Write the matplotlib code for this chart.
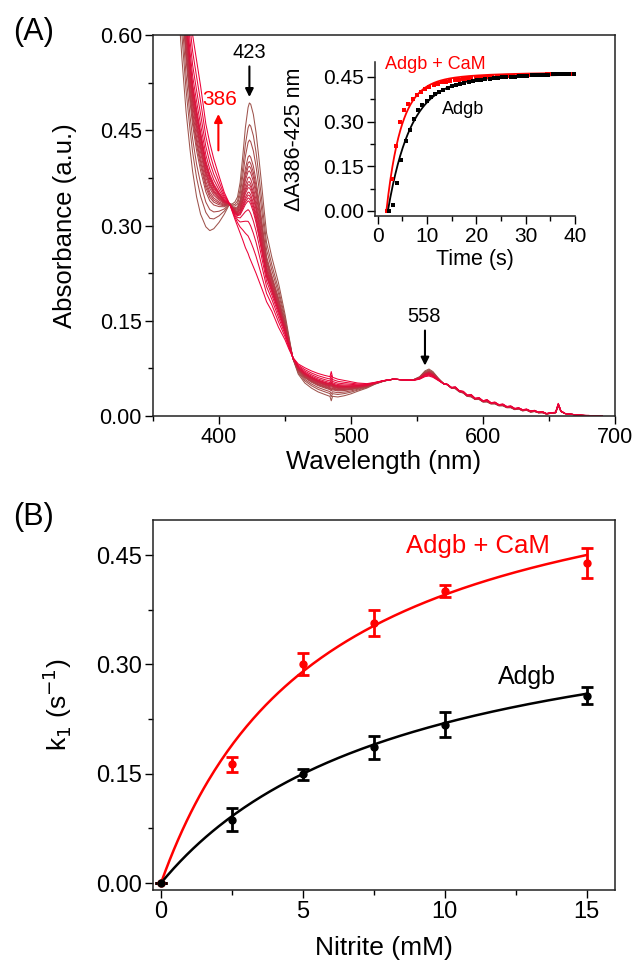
import numpy as np
import matplotlib
matplotlib.use('Agg')
import matplotlib.pyplot as plt
from matplotlib.ticker import MultipleLocator

plt.rcParams['font.family'] = ['Liberation Sans', 'DejaVu Sans']

# --- painel A: espectros ---
wl = [360, 365, 370, 372, 375, 378, 380, 383, 386, 390, 393, 396, 400, 404,
      408, 410, 412, 414, 416, 418, 420, 422, 423, 424, 426, 428, 430, 432, 434, 436,
      440, 445, 450, 453, 456, 460, 465, 470, 475, 480, 484, 485, 486, 490, 495,
      500, 505, 512, 518, 525, 532, 540, 547, 552, 556, 559, 562, 566, 570,
      573, 576, 579, 582, 585, 588, 591, 594, 597, 600, 603, 606, 609, 612, 615,
      618, 621, 624, 627, 630, 633, 636, 639, 642, 645, 648, 651, 655, 657, 659,
      662, 665, 670, 675, 680, 685, 690]
abs_inicial = [1.5, 1.0, 0.62, 0.56, 0.48, 0.42, 0.385, 0.345, 0.318, 0.298, 0.292, 0.295, 0.305, 0.318,
               0.334, 0.334, 0.337, 0.345, 0.368, 0.41, 0.455, 0.486, 0.493, 0.491, 0.475, 0.447, 0.41, 0.37, 0.328, 0.288,
               0.25, 0.21, 0.16, 0.125, 0.09, 0.066, 0.052, 0.044, 0.038, 0.034, 0.031, 0.024, 0.031, 0.030, 0.032,
               0.035, 0.039, 0.044, 0.050, 0.055, 0.058, 0.057, 0.057, 0.062, 0.071, 0.074, 0.070, 0.060, 0.051,
               0.049, 0.044, 0.043, 0.038, 0.036, 0.031, 0.030, 0.026, 0.026, 0.022, 0.022, 0.019, 0.019, 0.016, 0.016,
               0.013, 0.013, 0.010, 0.011, 0.008, 0.009, 0.006, 0.007, 0.005, 0.005, 0.003, 0.004, 0.005, 0.016, 0.007,
               0.004, 0.003, 0.002, 0.001, 0.000, 0.000, 0.000]
abs_final = [1.5, 1.2, 0.9, 0.82, 0.72, 0.64, 0.60, 0.56, 0.52, 0.46, 0.43, 0.405, 0.378, 0.352,
             0.334, 0.322, 0.31, 0.299, 0.288, 0.277, 0.265, 0.256, 0.25, 0.245, 0.235, 0.225, 0.214, 0.203, 0.192, 0.18,
             0.165, 0.14, 0.12, 0.105, 0.092, 0.082, 0.076, 0.071, 0.067, 0.064, 0.062, 0.070, 0.061, 0.058, 0.056,
             0.054, 0.052, 0.051, 0.053, 0.056, 0.058, 0.057, 0.056, 0.058, 0.062, 0.063, 0.061, 0.056, 0.051,
             0.050, 0.045, 0.046, 0.040, 0.039, 0.033, 0.034, 0.028, 0.029, 0.024, 0.026, 0.021, 0.022, 0.018, 0.019,
             0.015, 0.016, 0.012, 0.013, 0.010, 0.011, 0.008, 0.009, 0.006, 0.007, 0.004, 0.005, 0.006, 0.020, 0.008,
             0.004, 0.003, 0.002, 0.001, 0.001, 0.000, 0.000]
fracao = [0.0, 0.14, 0.24, 0.34, 0.38, 0.41, 0.44, 0.48, 0.51, 0.53, 0.55,
          0.58, 0.60, 0.62, 0.64, 0.70, 0.78, 0.88, 1.0]

# --- inset: cinetica ---
t_cam = np.round(2.0 + 0.85 * np.arange(45), 2)
dA_cam = [0.000, 0.106, 0.218, 0.300, 0.339, 0.359, 0.374, 0.389, 0.400, 0.409,
          0.417, 0.422, 0.427, 0.431, 0.434, 0.437, 0.439, 0.441, 0.443, 0.444,
          0.445, 0.446, 0.447, 0.448, 0.449, 0.450, 0.451, 0.452, 0.452, 0.453,
          0.454, 0.454, 0.455, 0.455, 0.456, 0.456, 0.457, 0.457, 0.458, 0.458,
          0.459, 0.459, 0.460, 0.460, 0.461]
t_adgb = np.round(2.3 + 0.85 * np.arange(45), 2)
dA_adgb = [0.000, 0.019, 0.094, 0.170, 0.234, 0.272, 0.309, 0.337, 0.357, 0.370,
           0.383, 0.393, 0.400, 0.407, 0.413, 0.418, 0.423, 0.427, 0.430, 0.433,
           0.436, 0.438, 0.440, 0.442, 0.444, 0.445, 0.447, 0.448, 0.449, 0.450,
           0.451, 0.452, 0.453, 0.454, 0.455, 0.455, 0.456, 0.457, 0.457, 0.458,
           0.458, 0.459, 0.459, 0.460, 0.460]
# parametros do ajuste biexponencial (t0, A1, tau1, A2, tau2)
fit_cam = (1.8, 0.42, 2.9, 0.045, 12.0)
fit_adgb = (2.1, 0.42, 4.5, 0.04, 15.0)

# --- painel B ---
nitrito = [0, 2.5, 5, 7.5, 10, 15]
k_cam = [0.0, 0.163, 0.300, 0.357, 0.401, 0.439]
err_cam = [0.0, 0.010, 0.015, 0.018, 0.008, 0.020]
k_adgb = [0.0, 0.087, 0.149, 0.186, 0.217, 0.257]
err_adgb = [0.0, 0.016, 0.007, 0.016, 0.017, 0.012]
mm_cam = (0.621, 5.7)    # kmax, Km
mm_adgb = (0.41, 8.68)

fig = plt.figure(figsize=(6.35, 9.63), dpi=100)


def estilo(ax, fs):
    ax.tick_params(which='both', direction='out', width=1, labelsize=fs, pad=2)
    ax.tick_params(which='major', length=6)
    ax.tick_params(which='minor', length=3.5)
    for s in ax.spines.values():
        s.set_linewidth(1.1)
        s.set_color('#222222')


# Painel A
axA = fig.add_axes([0.241, 0.568, 0.7276, 0.3956])
wl_arr = np.array(wl)
a0 = np.array(abs_inicial)
a1 = np.array(abs_final)
c0 = np.array([0.62, 0.33, 0.30])
c1 = np.array([0.93, 0.0, 0.22])
for i, f in enumerate(fracao):
    espectro = (1 - f) * a0 + f * a1
    cor = c0 + (c1 - c0) * (i / (len(fracao) - 1))
    axA.plot(wl_arr, espectro, color=cor, lw=0.75)
axA.set_xlim(350, 700)
axA.set_ylim(0, 0.6)
axA.set_xticks([400, 500, 600, 700])
axA.xaxis.set_minor_locator(MultipleLocator(50))
axA.set_yticks([0.0, 0.15, 0.30, 0.45, 0.60])
axA.yaxis.set_minor_locator(MultipleLocator(0.075))
axA.set_yticklabels(['0.00', '0.15', '0.30', '0.45', '0.60'])
estilo(axA, 15.5)
axA.tick_params(top=False, right=False, which='both')
axA.set_xlabel('Wavelength (nm)', fontsize=18.5)
axA.set_ylabel('Absorbance (a.u.)', fontsize=18.5)
axA.xaxis.set_label_coords(0.5, -0.088)
axA.yaxis.set_label_coords(-0.165, 0.5)

axA.annotate('', xy=(423, 0.498), xytext=(423, 0.555),
             arrowprops=dict(arrowstyle='-|>', color='black', lw=1.5, mutation_scale=12))
axA.text(423, 0.572, '423', ha='center', va='center', fontsize=14.5)
axA.annotate('', xy=(399.5, 0.48), xytext=(399.5, 0.414),
             arrowprops=dict(arrowstyle='-|>', color='red', lw=1.5, mutation_scale=12))
axA.text(400.5, 0.498, '386', ha='center', va='center', fontsize=15, color='red')
axA.annotate('', xy=(556, 0.075), xytext=(556, 0.139),
             arrowprops=dict(arrowstyle='-|>', color='black', lw=1.5, mutation_scale=12))
axA.text(555, 0.156, '558', ha='center', va='center', fontsize=14.5)

# inset
axI = fig.add_axes([0.5906, 0.7757, 0.315, 0.16])
tt = np.linspace(0, 40, 400)
for (t0, A1, tau1, A2, tau2), cor in [(fit_cam, 'red'), (fit_adgb, 'black')]:
    ts = tt[tt >= t0]
    y = A1 * (1 - np.exp(-(ts - t0) / tau1)) + A2 * (1 - np.exp(-(ts - t0) / tau2))
    axI.plot(ts, y, color=cor, lw=1.3)
axI.plot(t_cam, dA_cam, 's', color='red', ms=2.2, mew=0)
axI.plot(t_adgb, dA_adgb, 's', color='black', ms=2.2, mew=0)
axI.set_xlim(-0.5, 40)
axI.set_ylim(-0.017, 0.5)
axI.set_xticks([0, 10, 20, 30, 40])
axI.xaxis.set_minor_locator(MultipleLocator(5))
axI.set_yticks([0.0, 0.15, 0.30, 0.45])
axI.set_yticklabels(['0.00', '0.15', '0.30', '0.45'])
axI.yaxis.set_minor_locator(MultipleLocator(0.075))
estilo(axI, 15)
axI.spines['top'].set_visible(False)
axI.spines['right'].set_visible(False)
axI.patch.set_alpha(0)
axI.set_xlabel('Time (s)', fontsize=15.5)
axI.set_ylabel('\u0394A386-425 nm', fontsize=15.5)
axI.xaxis.set_label_coords(0.5, -0.215)
axI.yaxis.set_label_coords(-0.35, 0.5)
axI.text(11.8, 0.49, 'Adgb + CaM', color='red', ha='center', va='center', fontsize=13)
axI.text(17.3, 0.342, 'Adgb', color='black', ha='center', va='center', fontsize=13)

# Painel B
axB = fig.add_axes([0.241, 0.0758, 0.7276, 0.3842])
xx = np.linspace(0, 15, 200)
axB.plot(xx, mm_cam[0] * xx / (mm_cam[1] + xx), color='red', lw=1.8)
axB.plot(xx, mm_adgb[0] * xx / (mm_adgb[1] + xx), color='black', lw=1.8)
axB.errorbar(nitrito, k_cam, yerr=err_cam, fmt='o', color='red', ms=5,
             capsize=4, elinewidth=2, capthick=2)
axB.errorbar(nitrito, k_adgb, yerr=err_adgb, fmt='o', color='black', ms=5,
             capsize=4, elinewidth=2, capthick=2)
axB.set_xlim(-0.28, 16)
axB.set_ylim(-0.0095, 0.498)
axB.set_xticks([0, 5, 10, 15])
axB.xaxis.set_minor_locator(MultipleLocator(2.5))
axB.set_yticks([0.0, 0.15, 0.30, 0.45])
axB.set_yticklabels(['0.00', '0.15', '0.30', '0.45'])
axB.yaxis.set_minor_locator(MultipleLocator(0.075))
estilo(axB, 17)
axB.tick_params(top=False, right=False, which='both')
axB.set_xlabel('Nitrite (mM)', fontsize=19)
axB.set_ylabel('k$_1$ (s$^{-1}$)', fontsize=19)
axB.xaxis.set_label_coords(0.5, -0.125)
axB.yaxis.set_label_coords(-0.17, 0.5)
axB.text(11.16, 0.463, 'Adgb + CaM', color='red', ha='center', va='center', fontsize=18.5)
axB.text(12.88, 0.283, 'Adgb', color='black', ha='center', va='center', fontsize=18)

fig.text(0.02, 0.967, '(A)', fontsize=22, va='center', ha='left')
fig.text(0.02, 0.463, '(B)', fontsize=22, va='center', ha='left')

fig.savefig('out.png', dpi=100)
